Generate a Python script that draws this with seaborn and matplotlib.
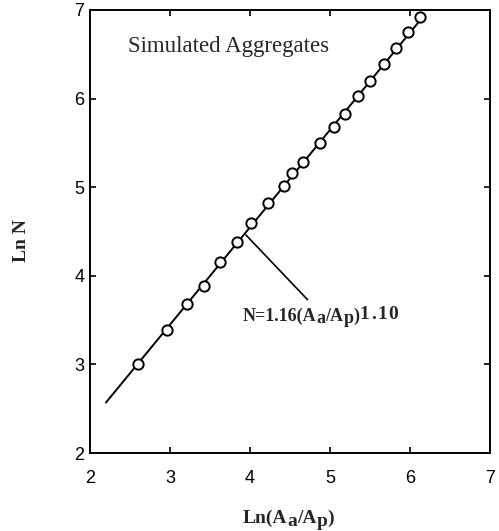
import matplotlib
matplotlib.use("Agg")
import matplotlib.pyplot as plt
import matplotlib.transforms as mtransforms
import seaborn as sns
import pandas as pd

# Data
ln_area = [2.60, 2.96, 3.21, 3.42, 3.63, 3.84, 4.01, 4.22, 4.42, 4.53, 4.66,
           4.87, 5.05, 5.19, 5.35, 5.50, 5.67, 5.82, 5.98, 6.13]
ln_n = [3.00, 3.39, 3.68, 3.88, 4.16, 4.38, 4.60, 4.82, 5.01, 5.16, 5.29,
        5.50, 5.68, 5.83, 6.03, 6.20, 6.39, 6.57, 6.75, 6.92]
fit_x = [2.20, 6.15]
fit_y = [2.57, 6.91]
x_ticks = [2, 3, 4, 5, 6, 7]
y_ticks = [2, 3, 4, 5, 6, 7]

sns.set_theme(style="ticks")
plt.rcParams["font.family"] = ["Liberation Sans", "DejaVu Sans"]

W, H = 499, 531
fig = plt.figure(figsize=(W / 100, H / 100), dpi=100)
ax = fig.add_axes([90 / W, 1 - 453 / H, 400 / W, 443 / H])

pts = pd.DataFrame({"x": ln_area, "y": ln_n})
fit = pd.DataFrame({"x": fit_x, "y": fit_y})

sns.lineplot(data=fit, x="x", y="y", ax=ax, color="black", linewidth=1.4,
             legend=False)
sns.scatterplot(data=pts, x="x", y="y", ax=ax, marker="o", s=55,
                facecolor="white", edgecolor="black", linewidth=1.4,
                zorder=3, legend=False)

ax.set_xlim(2, 7)
ax.set_ylim(2, 7)
ax.set_xticks(x_ticks)
ax.set_yticks(y_ticks)
ax.tick_params(axis="both", direction="in", length=4, width=1.2, top=True,
               right=True, labelsize=13, colors="black")
ax.tick_params(axis="x", pad=12)
ax.tick_params(axis="y", pad=4)
for sp in ax.spines.values():
    sp.set_visible(True)
    sp.set_linewidth(1.4)
    sp.set_color("black")

ax.set_xlabel("")
ax.set_ylabel("Ln N", family="Liberation Serif", fontweight="bold",
              fontsize=14)
ax.yaxis.set_label_coords(-0.15, 0.48)

ax.text(2.475, 6.526, "Simulated Aggregates", family="Liberation Serif",
        fontsize=16.5, va="baseline", ha="left")

ax.plot([3.95, 4.72], [4.46, 3.73], color="black", linewidth=1.2)

renderer = fig.canvas.get_renderer()
ident = mtransforms.IdentityTransform()


def rich_text(x_px, y_base, parts):
    """Bold serif text pieces side by side; y_base in image pixels from top.
    Each part: (text, size, vertical shift px, extra letter spacing px)."""
    x = x_px
    for s, size, dy, track in parts:
        chars = list(s) if track else [s]
        for i, c in enumerate(chars):
            t = fig.text(x, H - y_base + dy, c, transform=ident, fontsize=size,
                         family="Liberation Serif", fontweight="bold",
                         va="baseline", ha="left")
            x += t.get_window_extent(renderer).width
            if track and i < len(chars) - 1:
                x += track


rich_text(243, 321, [("N=1.16(A", 13, 0, 0), ("a", 13, -2, 0),
                     ("/A", 13, 0, 0), ("p", 13, -2, 0), (")", 13, 0, 0),
                     ("1.10", 14, 2, 1.5)])
rich_text(243, 523, [("Ln(A", 14, 0, 0), ("a", 14, -3, 0), ("/A", 14, 0, 0),
                     ("p", 14, -3, 0), (")", 14, 0, 0)])

fig.savefig("out.png", dpi=100)
